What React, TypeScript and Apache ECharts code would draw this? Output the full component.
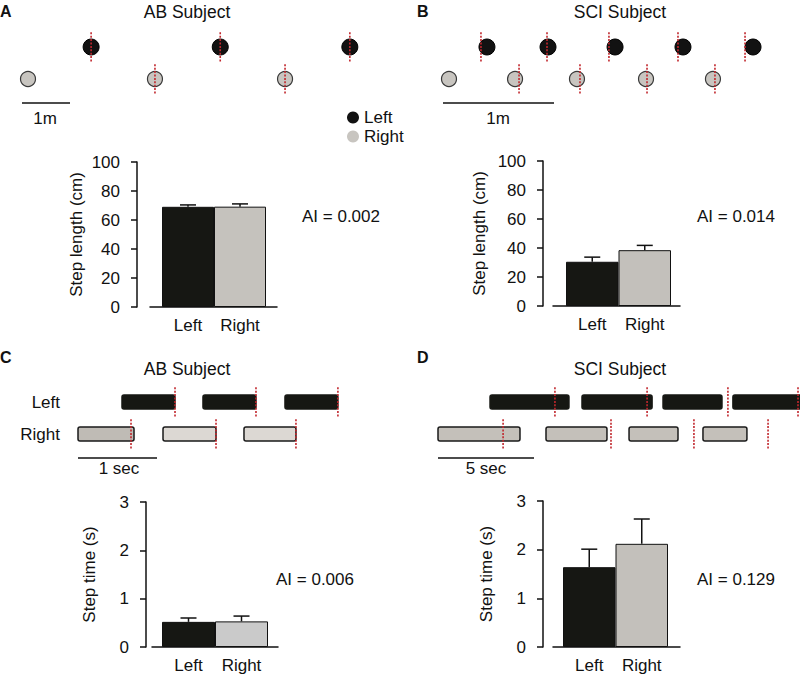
import React, { useEffect, useRef } from 'react';
import * as echarts from 'echarts';

const FONT = '"Liberation Sans", Arial, Helvetica, sans-serif';
const RED = '#c1272d';
const INK = '#111111';
const BLACK_FILL = '#161713';

// ---------- Panel A / B footprints (positions in metres) ----------
const abLeftFoot = [1.44, 4.13, 6.83];
const abRightFoot = [0.125, 2.77, 5.48];
const abLeftStrike = [1.44, 4.13, 6.83];
const abRightStrike = [2.77, 5.48];
const sciLeftFoot = [0.396, 0.946, 1.55, 2.162, 2.793];
const sciRightFoot = [0.054, 0.649, 1.207, 1.829, 2.432];
const sciLeftStrike = [0.342, 0.937, 1.495, 2.117, 2.721];
const sciRightStrike = [0.685, 1.234, 1.838, 2.45];
const footScaleBar = [0, 1]; // 1 m

// ---------- Panel C / D stance timing (seconds) ----------
const abLeftStance = [[0.557, 1.228], [1.582, 2.253], [2.62, 3.29]];
const abRightStance = [[0, 0.709], [1.076, 1.747], [2.101, 2.759]];
const abLeftMark = [1.228, 2.253, 3.29];
const abRightMark = [0.671, 1.747, 2.759];
const sciLeftStance = [[2.71, 6.82], [7.5, 11.15], [11.72, 14.79], [15.36, 18.9]];
const sciRightStance = [[0, 4.27], [5.625, 8.8], [9.95, 12.5], [13.8, 16.09]];
const sciLeftMark = [6.09, 10.89, 15.1, 18.75];
const sciRightMark = [3.39, 9.01, 13.33, 17.19];
const abTimeScaleBar = [0, 1]; // 1 sec
const sciTimeScaleBar = [0, 5]; // 5 sec

// ---------- Bar charts ----------
const sides = ['Left', 'Right'];
const stepLengthAB = [69.1, 69.2];
const stepLengthABErr = [1.3, 1.9];
const stepLengthSCI = [30.5, 38.5];
const stepLengthSCIErr = [3.2, 3.3];
const stepTimeAB = [0.52, 0.53];
const stepTimeABErr = [0.08, 0.11];
const stepTimeSCI = [1.64, 2.12];
const stepTimeSCIErr = [0.37, 0.51];
const lengthAxis = { min: 0, max: 100, interval: 20 };
const timeAxis = { min: 0, max: 3, interval: 1 };
const aiLabels = ['AI = 0.002', 'AI = 0.014', 'AI = 0.006', 'AI = 0.129'];

const LEFT_ROW = 1;
const RIGHT_ROW = 0;
const BAR_ROW = -0.75;

function strikeSeries(axisIndex: number, left: number[], right: number[]) {
  return {
    type: 'custom',
    xAxisIndex: axisIndex,
    yAxisIndex: axisIndex,
    z: 5,
    silent: true,
    data: [...left.map((x) => [x, LEFT_ROW]), ...right.map((x) => [x, RIGHT_ROW])],
    encode: { x: 0, y: 1 },
    renderItem: (_p: any, api: any) => {
      const x = api.value(0);
      const row = api.value(1);
      const a = api.coord([x, row + 0.46]);
      const b = api.coord([x, row - 0.48]);
      return {
        type: 'line',
        shape: { x1: a[0], y1: a[1], x2: b[0], y2: b[1] },
        style: { stroke: RED, lineWidth: 1.6, lineDash: [2, 1.4] },
      };
    },
  };
}

function stanceSeries(axisIndex: number, spans: number[][], row: number, fills: string[], stroke: string) {
  return {
    type: 'custom',
    xAxisIndex: axisIndex,
    yAxisIndex: axisIndex,
    z: 3,
    silent: true,
    data: spans.map((s) => [s[0], s[1], row]),
    encode: { x: [0, 1], y: 2 },
    renderItem: (p: any, api: any) => {
      const a = api.coord([api.value(0), api.value(2) + 0.22]);
      const b = api.coord([api.value(1), api.value(2) - 0.22]);
      return {
        type: 'rect',
        shape: { x: a[0], y: a[1], width: b[0] - a[0], height: b[1] - a[1], r: 2 },
        style: { fill: fills[p.dataIndex % fills.length], stroke, lineWidth: 1.5 },
      };
    },
  };
}

function scaleBarSeries(axisIndex: number, bar: number[]) {
  return {
    type: 'line',
    xAxisIndex: axisIndex,
    yAxisIndex: axisIndex,
    silent: true,
    symbol: 'none',
    data: bar.map((x) => [x, BAR_ROW]),
    lineStyle: { color: INK, width: 1.6 },
  };
}

function barSeries(axisIndex: number, values: number[], colors: string[]) {
  return {
    type: 'bar',
    xAxisIndex: axisIndex,
    yAxisIndex: axisIndex,
    barCategoryGap: 0,
    silent: true,
    data: values.map((v, i) => ({ value: v, itemStyle: { color: colors[i], borderColor: INK, borderWidth: 1 } })),
  };
}

function errorSeries(axisIndex: number, values: number[], errs: number[]) {
  return {
    type: 'custom',
    xAxisIndex: axisIndex,
    yAxisIndex: axisIndex,
    z: 4,
    silent: true,
    data: values.map((v, i) => [i, v, errs[i]]),
    encode: { x: 0, y: 1 },
    renderItem: (_p: any, api: any) => {
      const i = api.value(0);
      const v = api.value(1);
      const e = api.value(2);
      const b = api.coord([i, v]);
      const t = api.coord([i, v + e]);
      const st = { stroke: INK, lineWidth: 1.5 };
      return {
        type: 'group',
        children: [
          { type: 'line', shape: { x1: b[0], y1: b[1], x2: t[0], y2: t[1] }, style: st },
          { type: 'line', shape: { x1: t[0] - 8, y1: t[1], x2: t[0] + 8, y2: t[1] }, style: st },
        ],
      };
    },
  };
}

const hiddenValue = (gridIndex: number, min: number, max: number) => ({
  type: 'value', gridIndex, min, max, show: false,
});

function barYAxis(gridIndex: number, cfg: any, name: string, offset: number, nameGap: number) {
  return {
    type: 'value',
    gridIndex,
    min: cfg.min,
    max: cfg.max,
    interval: cfg.interval,
    offset,
    name,
    nameLocation: 'middle',
    nameGap,
    nameTextStyle: { fontSize: 17, color: INK, fontFamily: FONT },
    axisLine: { show: true, lineStyle: { color: INK, width: 1.5 } },
    axisTick: { show: true, length: 6, lineStyle: { color: INK, width: 1.5 } },
    axisLabel: { fontSize: 17, color: INK, fontFamily: FONT, margin: 17 },
    splitLine: { show: false },
  };
}

function barXAxis(gridIndex: number) {
  return {
    type: 'category',
    gridIndex,
    data: sides,
    axisLine: { show: false },
    axisTick: { show: false },
    axisLabel: { fontSize: 17, color: INK, fontFamily: FONT, margin: 10 },
  };
}

function baseXAxis(gridIndex: number) {
  return {
    type: 'value',
    gridIndex,
    min: 0,
    max: 1,
    axisLine: { show: true, lineStyle: { color: INK, width: 1.5 } },
    axisTick: { show: false },
    axisLabel: { show: false },
    splitLine: { show: false },
  };
}

function txt(text: string, x: number, y: number, align: string, size = 17, bold = false) {
  return {
    type: 'text',
    x,
    y,
    silent: true,
    style: {
      text,
      fontSize: size,
      fontFamily: FONT,
      fontWeight: bold ? 'bold' : 'normal',
      fill: INK,
      align,
      verticalAlign: 'middle',
    },
  };
}

export default function App() {
  const ref = useRef<HTMLDivElement>(null);
  useEffect(() => {
    if (!ref.current) return;
    const chart = echarts.init(ref.current, undefined, { renderer: 'svg' });
    const grids = [
      { left: 22, top: 27.8, width: 360, height: 83.2 }, // 0 A feet
      { left: 443, top: 27.8, width: 355.2, height: 83.2 }, // 1 B feet
      { left: 78, top: 382.8, width: 316, height: 83.2 }, // 2 C timing
      { left: 438, top: 382.8, width: 362, height: 83.2 }, // 3 D timing
      { left: 162, top: 162, width: 104, height: 145 }, // 4 A bars
      { left: 566, top: 161, width: 105, height: 145 }, // 5 B bars
      { left: 162, top: 502, width: 106, height: 145 }, // 6 C bars
      { left: 563, top: 501, width: 105, height: 146 }, // 7 D bars
      { left: 150, top: 162, width: 127, height: 145 }, // 8 A base
      { left: 553, top: 161, width: 127, height: 145 }, // 9 B base
      { left: 152, top: 502, width: 126, height: 145 }, // 10 C base
      { left: 553, top: 501, width: 127, height: 146 }, // 11 D base
    ];
    const xAxis: any[] = [
      hiddenValue(0, 0, 7.5),
      hiddenValue(1, 0, 3.2),
      hiddenValue(2, 0, 4),
      hiddenValue(3, 0, 18.854),
      barXAxis(4),
      barXAxis(5),
      barXAxis(6),
      barXAxis(7),
      baseXAxis(8),
      baseXAxis(9),
      baseXAxis(10),
      baseXAxis(11),
    ];
    const yAxis: any[] = [
      hiddenValue(0, -1, 1.6),
      hiddenValue(1, -1, 1.6),
      {
        type: 'value',
        gridIndex: 2,
        min: -1,
        max: 1.6,
        interval: 1,
        axisLine: { show: false },
        axisTick: { show: false },
        splitLine: { show: false },
        axisLabel: {
          fontSize: 17,
          color: INK,
          fontFamily: FONT,
          margin: 18,
          formatter: (v: number) => (v === LEFT_ROW ? sides[0] : v === RIGHT_ROW ? sides[1] : ''),
        },
      },
      hiddenValue(3, -1, 1.6),
      barYAxis(4, lengthAxis, 'Step length (cm)', 25, 52),
      barYAxis(5, lengthAxis, 'Step length (cm)', 23, 55),
      barYAxis(6, timeAxis, 'Step time (s)', 16, 48),
      barYAxis(7, timeAxis, 'Step time (s)', 20, 48),
      hiddenValue(8, 0, 1),
      hiddenValue(9, 0, 1),
      hiddenValue(10, 0, 1),
      hiddenValue(11, 0, 1),
    ];
    const leftStyle = { color: '#121212', borderColor: '#000', borderWidth: 1, opacity: 1 };
    const rightStyle = { color: '#c8c5c0', borderColor: '#3a3a3a', borderWidth: 1.2, opacity: 1 };
    const series: any[] = [
      { type: 'scatter', name: 'Left', xAxisIndex: 0, yAxisIndex: 0, z: 3, symbolSize: 16, itemStyle: leftStyle, data: abLeftFoot.map((x) => [x, LEFT_ROW]) },
      { type: 'scatter', name: 'Right', xAxisIndex: 0, yAxisIndex: 0, z: 3, symbolSize: 15, itemStyle: rightStyle, data: abRightFoot.map((x) => [x, RIGHT_ROW]) },
      { type: 'scatter', name: 'Left', xAxisIndex: 1, yAxisIndex: 1, z: 3, symbolSize: 16, itemStyle: leftStyle, data: sciLeftFoot.map((x) => [x, LEFT_ROW]) },
      { type: 'scatter', name: 'Right', xAxisIndex: 1, yAxisIndex: 1, z: 3, symbolSize: 15, itemStyle: rightStyle, data: sciRightFoot.map((x) => [x, RIGHT_ROW]) },
      strikeSeries(0, abLeftStrike, abRightStrike),
      strikeSeries(1, sciLeftStrike, sciRightStrike),
      scaleBarSeries(0, footScaleBar),
      scaleBarSeries(1, footScaleBar),
      stanceSeries(2, abLeftStance, LEFT_ROW, [BLACK_FILL], BLACK_FILL),
      stanceSeries(2, abRightStance, RIGHT_ROW, ['#bfbbb5', '#dcd8d3', '#dcd8d3'], '#1a1a1a'),
      stanceSeries(3, sciLeftStance, LEFT_ROW, [BLACK_FILL], BLACK_FILL),
      stanceSeries(3, sciRightStance, RIGHT_ROW, ['#c4c0ba'], '#1a1a1a'),
      strikeSeries(2, abLeftMark, abRightMark),
      strikeSeries(3, sciLeftMark, sciRightMark),
      scaleBarSeries(2, abTimeScaleBar),
      scaleBarSeries(3, sciTimeScaleBar),
      barSeries(4, stepLengthAB, [BLACK_FILL, '#c5c2bd']),
      barSeries(5, stepLengthSCI, [BLACK_FILL, '#c3c0bb']),
      barSeries(6, stepTimeAB, [BLACK_FILL, '#cacaca']),
      barSeries(7, stepTimeSCI, [BLACK_FILL, '#c3c0bb']),
      errorSeries(4, stepLengthAB, stepLengthABErr),
      errorSeries(5, stepLengthSCI, stepLengthSCIErr),
      errorSeries(6, stepTimeAB, stepTimeABErr),
      errorSeries(7, stepTimeSCI, stepTimeSCIErr),
    ];
    chart.setOption({
      animation: false,
      backgroundColor: '#ffffff',
      textStyle: { fontFamily: FONT },
      grid: grids,
      xAxis,
      yAxis,
      series,
      legend: {
        data: ['Left', 'Right'],
        orient: 'vertical',
        left: 342,
        top: 104,
        icon: 'circle',
        itemWidth: 12,
        itemHeight: 12,
        itemGap: 2,
        selectedMode: false,
        itemStyle: { borderWidth: 0 },
        textStyle: { fontSize: 17, color: INK, fontFamily: FONT, lineHeight: 16 },
      },
      graphic: [
        txt('A', 0, 11, 'left', 16, true),
        txt('B', 417, 11, 'left', 16, true),
        txt('C', 0, 357, 'left', 16, true),
        txt('D', 417, 357, 'left', 16, true),
        txt('AB Subject', 187, 12, 'center', 17.5),
        txt('SCI Subject', 620, 12, 'center', 17.5),
        txt('AB Subject', 187, 369, 'center', 17.5),
        txt('SCI Subject', 620, 369, 'center', 17.5),
        txt('1m', 45, 118, 'center'),
        txt('1m', 498, 118, 'center'),
        txt('1 sec', 119, 468, 'center'),
        txt('5 sec', 486, 468, 'center'),
        txt(aiLabels[0], 302, 216, 'left'),
        txt(aiLabels[1], 697, 216, 'left'),
        txt(aiLabels[2], 276, 579, 'left'),
        txt(aiLabels[3], 697, 579, 'left'),
      ],
    });
    return () => chart.dispose();
  }, []);
  return <div ref={ref} style={{ position: 'absolute', left: 0, top: 0, width: 800, height: 676, background: '#fff' }} />;
}
